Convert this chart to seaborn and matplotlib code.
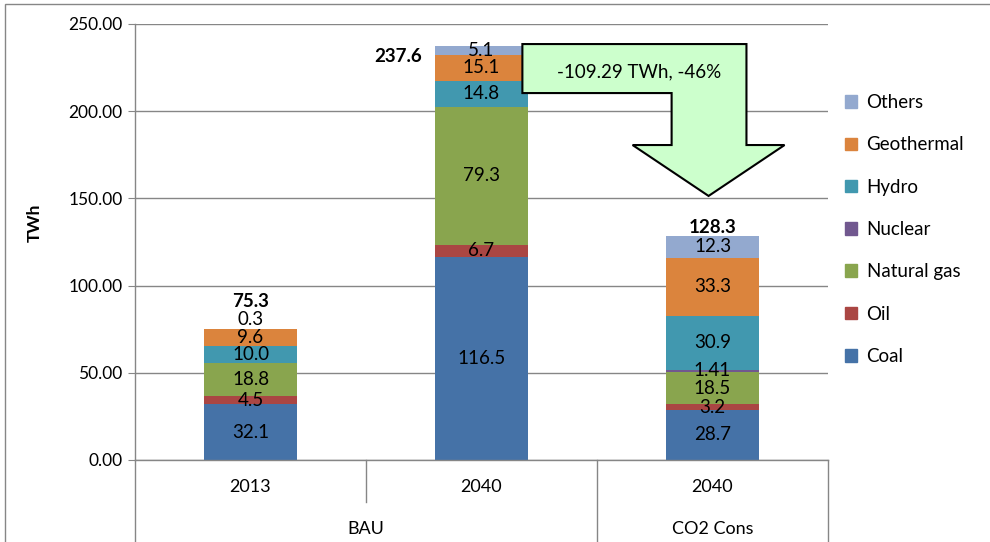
import numpy as np
import pandas as pd
import matplotlib
matplotlib.use("Agg")
import matplotlib.pyplot as plt
import matplotlib.patches as mpatches
import matplotlib.transforms as mtransforms
import seaborn as sns

# ---- data ----
bars = ["BAU 2013", "BAU 2040", "CO2 Cons 2040"]
years = ["2013", "2040", "2040"]
groups = ["BAU", "CO2 Cons"]
group_span = [(0, 1), (2, 2)]  # bar index range for each group

sources = ["Coal", "Oil", "Natural gas", "Nuclear", "Hydro", "Geothermal", "Others"]
coal = [32.1, 116.5, 28.7]
oil = [4.5, 6.7, 3.2]
natural_gas = [18.8, 79.3, 18.5]
nuclear = [0.0, 0.0, 1.41]
hydro = [10.0, 14.8, 30.9]
geothermal = [9.6, 15.1, 33.3]
others = [0.3, 5.1, 12.3]
totals = [75.3, 237.6, 128.3]

colors = {"Coal": "#4572A7", "Oil": "#AA4643", "Natural gas": "#89A54E",
          "Nuclear": "#71588F", "Hydro": "#4198AF", "Geothermal": "#DB843D",
          "Others": "#93A9CF"}

series = [coal, oil, natural_gas, nuclear, hydro, geothermal, others]
df = pd.DataFrame({s: v for s, v in zip(sources, series)}, index=bars)
cum = df.cumsum(axis=1)

plt.rcParams["font.family"] = ["Lato", "DejaVu Sans"]

fig = plt.figure(figsize=(9.9, 5.42), dpi=100)
ax = fig.add_axes([135 / 990, 82 / 542, 693 / 990, 436 / 542])

# stacked bars: draw cumulative totals from the top layer down
for s in reversed(sources):
    d = pd.DataFrame({"bar": bars, "value": cum[s].values})
    sns.barplot(data=d, x="bar", y="value", order=bars, color=colors[s],
                width=0.4, saturation=1, linewidth=0, ax=ax, zorder=2)

# segment labels
def fmt(v):
    return f"{v:.1f}" if round(v, 1) == v else f"{v:.2f}"

for i, b in enumerate(bars):
    for s in sources:
        v = df.loc[b, s]
        if v <= 0:
            continue
        yc = cum.loc[b, s] - v / 2
        if s == "Others" and v < 1:
            yc = cum.loc[b, s] + 5.5  # tiny slice: label sits just above the bar
        ax.text(i, yc, fmt(v), ha="center", va="center", fontsize=13.5, color="black", zorder=4)

# totals (bold)
total_pos = [(0, 90.6), (0.64, 231.5), (2, 133.5)]
for t, (x, y) in zip(totals, total_pos):
    ax.text(x, y, f"{t:.1f}", ha="center", va="center", fontsize=13.5, fontweight="bold", zorder=4)

# axes styling
ax.set_ylim(0, 250)
ax.set_xlim(-0.5, 2.5)
ax.set_yticks(np.arange(0, 251, 50))
ax.yaxis.set_major_formatter(matplotlib.ticker.FormatStrFormatter("%.2f"))
ax.tick_params(axis="y", labelsize=12.5, length=5, color="#868686", pad=4)
ax.tick_params(axis="x", length=0, labelbottom=False)
ax.set_xlabel("")
ax.set_ylabel("")
ax.yaxis.grid(True, color="#868686", lw=1)
ax.set_axisbelow(True)
for sp in ["top", "right"]:
    ax.spines[sp].set_visible(False)
for sp in ["left", "bottom"]:
    ax.spines[sp].set_color("#868686")
    ax.spines[sp].set_linewidth(1)

fig.text(35 / 990, 0.589, "TWh", rotation=90, ha="center", va="center",
         fontsize=12.5, fontweight="bold")

# two-level category axis
trans = mtransforms.blended_transform_factory(ax.transData, ax.transAxes)
for xb, ybot in [(-0.5, -0.25), (0.5, -0.096), (1.5, -0.25), (2.5, -0.25)]:
    ax.plot([xb, xb], [0, ybot], color="#868686", lw=1, transform=trans, clip_on=False)
for i, y in enumerate(years):
    ax.text(i, -0.062, y, ha="center", va="center", fontsize=13, transform=trans)
for g, (a, b) in zip(groups, group_span):
    ax.text((a + b) / 2, -0.158, g, ha="center", va="center", fontsize=13, transform=trans)

# arrow callout
arrow_pts = [(1.177, 238.5), (2.147, 238.5), (2.147, 180.6), (2.312, 180.6),
             (1.983, 151.4), (1.654, 180.6), (1.823, 180.6), (1.823, 210.4),
             (1.177, 210.4)]
ax.add_patch(mpatches.Polygon(arrow_pts, closed=True, facecolor="#CCFFCC",
                              edgecolor="black", lw=1.5, zorder=5, clip_on=False))
ax.text(1.684, 222.5, "-109.29 TWh, -46%", ha="center", va="center", fontsize=13.5, zorder=6)

# legend
handles = [mpatches.Patch(color=colors[s], label=s) for s in reversed(sources)]
fig.legend(handles=handles, loc="center left", bbox_to_anchor=(845 / 990, 0.5766),
           frameon=False, fontsize=13.5, handlelength=0.65, handleheight=0.65,
           handletextpad=0.5, labelspacing=1.35, borderaxespad=0, borderpad=0)

# outer chart frame
fig.patches.append(mpatches.Rectangle((5 / 990, -0.1), 1.2, 1.1 - 4 / 542,
                                      transform=fig.transFigure, fill=False,
                                      edgecolor="#868686", lw=1))

fig.savefig("out.png", dpi=100)
